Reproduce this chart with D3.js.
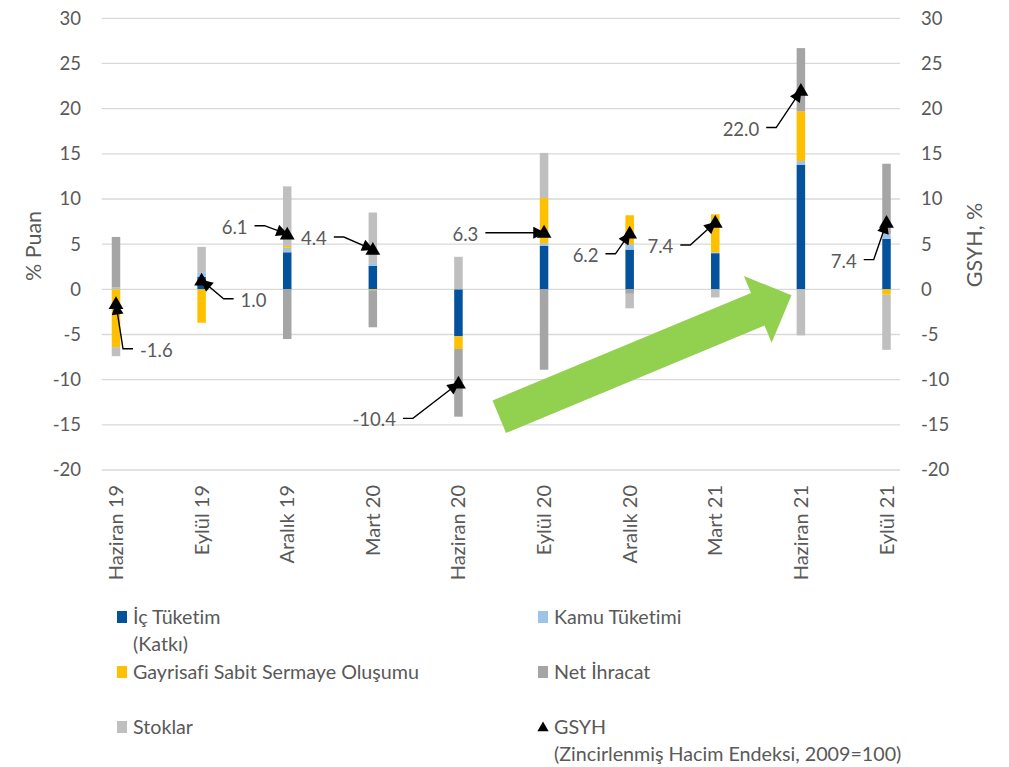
<!DOCTYPE html>
<html>
<head>
<meta charset="utf-8">
<script src="https://cdn.jsdelivr.net/npm/d3@7"></script>
<style>
  html, body { margin: 0; padding: 0; background: #ffffff; }
  svg { display: block; font-family: Lato, "Liberation Sans", sans-serif; font-variant-ligatures: none; }
  .tick-label, .legend-text, .axis-title, .value-label, .cat-label { fill: #595959; }
</style>
</head>
<body>
<svg id="chart" width="1009" height="767"></svg>
<script>
// Quarterly GDP growth (%) and expenditure-side contributions (percentage points)
const categories = ["Haziran 19", "Eylül 19", "Aralık 19", "Mart 20", "Haziran 20",
                    "Eylül 20", "Aralık 20", "Mart 21", "Haziran 21", "Eylül 21"];
const icTuketim    = [0.0, 1.4, 4.1, 2.6, -5.2, 4.8, 4.4, 4.0, 13.8, 5.6];
const kamuTuketimi = [0.2, 0.5, 0.5, 0.3, 0.0, 0.3, 0.6, 0.1, 0.4, 0.5];
const gsso         = [-6.4, -3.7, 0.2, -0.1, -1.4, 5.0, 3.2, 4.2, 5.5, -0.6];
const netIhracat   = [5.6, 0.0, -5.5, -4.1, -7.5, -8.9, -0.5, 0.0, 7.0, 7.8];
const stoklar      = [-1.0, 2.8, 6.6, 5.6, 3.6, 5.0, -1.6, -0.9, -5.1, -6.1];
const gsyh         = [-1.6, 1.0, 6.1, 4.4, -10.4, 6.3, 6.2, 7.4, 22.0, 7.4];
const yTicks       = [-20, -15, -10, -5, 0, 5, 10, 15, 20, 25, 30];

const seriesKeys  = ["ic", "kamu", "gsso", "net", "stok"];
const seriesColors = { ic: "#03529b", kamu: "#9dc3e6", gsso: "#ffc000", net: "#a5a5a5", stok: "#bfbfbf" };

const rows = categories.map((c, i) => ({
  cat: c, ic: icTuketim[i], kamu: kamuTuketimi[i], gsso: gsso[i],
  net: netIhracat[i], stok: stoklar[i], gdp: gsyh[i]
}));

const fmtLocale = d3.formatLocale({ decimal: ".", thousands: ",", grouping: [3], currency: ["", ""], minus: "-" });
const fmtTick = fmtLocale.format("d");
const fmtVal = fmtLocale.format(".1f");

const svg = d3.select("#chart");
const grid = { left: 101.7, right: 900 };
const y = d3.scaleLinear().domain([-20, 30]).range([470, 18.3]);
const x = d3.scalePoint().domain(categories).range([116, 886.5]);
const barW = 8.5;

// gridlines
svg.append("g").selectAll("line").data(yTicks).join("line")
  .attr("x1", grid.left).attr("x2", grid.right)
  .attr("y1", d => y(d)).attr("y2", d => y(d))
  .attr("stroke", "#d9d9d9").attr("stroke-width", 1.3);

// left and right value axes (labels only)
const leftAxis = d3.axisLeft(y).tickValues(yTicks).tickFormat(fmtTick).tickSize(0).tickPadding(0);
const gl = svg.append("g").attr("transform", "translate(81,0)").call(leftAxis);
const rightAxis = d3.axisRight(y).tickValues(yTicks).tickFormat(fmtTick).tickSize(0).tickPadding(0);
const gr = svg.append("g").attr("transform", "translate(921,0)").call(rightAxis);
[gl, gr].forEach(g => {
  g.select(".domain").remove();
  g.selectAll("text").attr("class", "tick-label").attr("fill", "#595959")
    .style("font-size", "18.5px").style("font-family", "Lato, sans-serif");
});

// category labels, rotated
svg.append("g").selectAll("text").data(categories).join("text")
  .attr("class", "cat-label")
  .attr("transform", d => `translate(${x(d)},485) rotate(-90)`)
  .attr("text-anchor", "end")
  .attr("dy", "0.35em")
  .style("font-size", "20px")
  .text(d => d);

// axis titles
svg.append("text").attr("class", "axis-title")
  .attr("transform", "translate(33,246) rotate(-90)")
  .attr("text-anchor", "middle").attr("dy", "0.35em").style("font-size", "21.5px").text("% Puan");
svg.append("text").attr("class", "axis-title")
  .attr("transform", "translate(974,245) rotate(-90)")
  .attr("text-anchor", "middle").attr("dy", "0.35em").style("font-size", "21.5px").text("GSYH, %");

// stacked contribution bars
const stack = d3.stack().keys(seriesKeys).offset(d3.stackOffsetDiverging);
const layers = stack(rows);
svg.append("g").selectAll("g").data(layers).join("g")
  .attr("fill", d => seriesColors[d.key])
  .selectAll("rect").data(d => d).join("rect")
  .attr("x", d => x(d.data.cat) - barW / 2)
  .attr("width", barW)
  .attr("y", d => y(Math.max(d[0], d[1])))
  .attr("height", d => Math.abs(y(d[0]) - y(d[1])));

// trend arrow
{
  const step = x.step();
  const tail = [x("Haziran 20") + 0.477 * step, y(-14.1)];
  const tip = [x("Mart 21") + 0.89 * step, y(-0.67)];
  const dxv = tip[0] - tail[0], dyv = tip[1] - tail[1];
  const len = Math.hypot(dxv, dyv);
  const u = [dxv / len, dyv / len], p = [-u[1], u[0]];
  const shaftHalf = 17.6, headHalf = 36.2, headLen = 36.5;
  const base = [tip[0] - u[0] * headLen, tip[1] - u[1] * headLen];
  const pt = (o, a) => [o[0] + p[0] * a, o[1] + p[1] * a];
  const poly = [
    pt(tail, shaftHalf), pt(base, shaftHalf), pt(base, headHalf), tip,
    pt(base, -headHalf), pt(base, -shaftHalf), pt(tail, -shaftHalf)
  ];
  svg.append("path").attr("d", d3.line()(poly) + "Z").attr("fill", "#92d050");
}

// GDP value callouts
const defs = svg.append("defs");
defs.append("marker").attr("id", "arrowhead")
  .attr("viewBox", "0 0 10 10").attr("refX", 9).attr("refY", 5)
  .attr("markerWidth", 13).attr("markerHeight", 12)
  .attr("markerUnits", "userSpaceOnUse").attr("orient", "auto")
  .append("path").attr("d", "M0,0L10,5L0,10Z").attr("fill", "#000");

// label offsets from each GDP marker, in the same order as the categories
const callouts = [
  { dx: 24, dy: 46.5, side: "right" },
  { dx: 39, dy: 20, side: "right" },
  { dx: -39.7, dy: -7, side: "left" },
  { dx: -46, dy: -11, side: "left" },
  { dx: -62.5, dy: 36.6, side: "left" },
  { dx: -65.7, dy: 1.8, side: "left", straight: true },
  { dx: -31.2, dy: 22, side: "left" },
  { dx: -42, dy: 24, side: "left" },
  { dx: -41.7, dy: 38.5, side: "left" },
  { dx: -29.8, dy: 38.7, side: "left" }
];

const gCall = svg.append("g");
rows.forEach((r, i) => {
  const mx = x(r.cat), my = y(r.gdp);
  const c = callouts[i];
  const tx = mx + c.dx, ty = my + c.dy;
  gCall.append("text").attr("class", "value-label")
    .attr("x", tx).attr("y", ty).attr("dy", "0.35em")
    .attr("text-anchor", c.side === "left" ? "end" : "start")
    .style("font-size", "18.5px")
    .text(fmtVal(r.gdp));
  const sgn = c.side === "left" ? 1 : -1;
  const sx = tx + sgn * 7, ly = ty - 1.5;
  const pts = c.straight ? [[sx, ly], [mx, ly]] : [[sx, ly], [sx + sgn * 10, ly], [mx, my]];
  gCall.append("path").attr("d", d3.line()(pts))
    .attr("fill", "none").attr("stroke", "#000").attr("stroke-width", 1.4)
    .attr("marker-end", "url(#arrowhead)");
});

// GDP markers
svg.append("g").selectAll("path").data(rows).join("path")
  .attr("transform", d => `translate(${x(d.cat)},${y(d.gdp) + 1})`)
  .attr("d", d3.symbol().type(d3.symbolTriangle).size(95))
  .attr("fill", "#000");

// legend
const legendItems = [
  { key: "ic", label: ["İç Tüketim", "(Katkı)"], col: 0, cy: 617 },
  { key: "kamu", label: ["Kamu Tüketimi"], col: 1, cy: 617 },
  { key: "gsso", label: ["Gayrisafi Sabit Sermaye Oluşumu"], col: 0, cy: 672 },
  { key: "net", label: ["Net İhracat"], col: 1, cy: 672 },
  { key: "stok", label: ["Stoklar"], col: 0, cy: 727 },
  { key: "gdp", label: ["GSYH", "(Zincirlenmiş Hacim Endeksi, 2009=100)"], col: 1, cy: 727 }
];
const colX = [117, 538];
const lg = svg.append("g");
legendItems.forEach(it => {
  const sx = colX[it.col];
  if (it.key === "gdp") {
    lg.append("path").attr("transform", `translate(${sx + 5},${it.cy + 1})`)
      .attr("d", d3.symbol().type(d3.symbolTriangle).size(55)).attr("fill", "#000");
  } else {
    lg.append("rect").attr("x", sx).attr("y", it.cy - 6).attr("width", 10).attr("height", 12)
      .attr("fill", seriesColors[it.key]);
  }
  it.label.forEach((t, k) => {
    lg.append("text").attr("class", "legend-text")
      .attr("x", sx + 16).attr("y", it.cy + k * 27).attr("dy", "0.35em")
      .style("font-size", "19.7px").text(t);
  });
});
</script>
</body>
</html>
